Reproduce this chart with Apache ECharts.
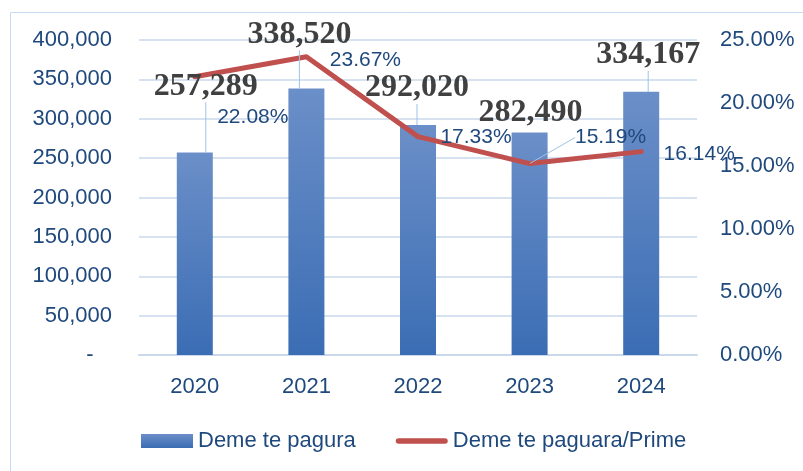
<!DOCTYPE html>
<html>
<head>
<meta charset="utf-8">
<script src="https://cdn.jsdelivr.net/npm/echarts@6/dist/echarts.min.js"></script>
<style>
html,body{margin:0;padding:0;background:#fff;}
#chart{width:803px;height:471px;}
</style>
</head>
<body>
<div id="chart"></div>
<script>
const categories = ['2020', '2021', '2022', '2023', '2024'];
const payable = [257289, 338520, 292020, 282490, 334167];
const ratioPct = [22.08, 23.67, 17.33, 15.19, 16.14];
const seriesNames = ['Deme te pagura', 'Deme te paguara/Prime'];

// label shifts (layout only)
const barLabelShift = [[11, -50], [-7, -38], [-1, -21], [1, -4], [7, -21]];
const lineLabelShift = [[58, 40], [59, 3], [58, 1], [81, -26], [58, 3]];
const barLeader = [true, true, true, false, true];
const lineLeader = [false, false, false, true, false];

const axisColor = '#1f497d';
const gridColor = '#cad8ec';
const leaderStyle = { color: '#9dc3e6', width: 1 };
const sans = '"Liberation Sans", Arial, sans-serif';

const chart = echarts.init(document.getElementById('chart'), null, { renderer: 'canvas' });

chart.setOption({
  animation: false,
  backgroundColor: '#ffffff',
  graphic: [{
    type: 'rect',
    shape: { x: 10.5, y: 12.5, width: 800, height: 470 },
    style: { fill: 'none', stroke: '#c6d9f0', lineWidth: 1 },
    silent: true
  }],
  grid: { left: 139, right: 106, top: 40, bottom: 116 },
  legend: {
    left: 141,
    top: 430,
    padding: 0,
    itemWidth: 52,
    itemHeight: 14,
    itemGap: 40,
    textStyle: { color: axisColor, fontSize: 22, fontFamily: sans },
    data: [
      { name: seriesNames[0], icon: 'rect' },
      { name: seriesNames[1], icon: 'path://M3,0 h50 a3,3 0 0 1 0,6 h-50 a3,3 0 0 1 0,-6 z' }
    ]
  },
  xAxis: {
    type: 'category',
    data: categories,
    axisLine: { show: true, lineStyle: { color: gridColor, width: 2 } },
    axisTick: { show: false },
    axisLabel: { color: axisColor, fontSize: 22, fontFamily: sans, margin: 21 }
  },
  yAxis: [
    {
      type: 'value',
      min: 0, max: 400000, interval: 50000,
      axisLine: { show: false },
      axisTick: { show: false },
      splitLine: { lineStyle: { color: gridColor, width: 1.5 } },
      axisLabel: {
        color: axisColor, fontSize: 22, fontFamily: sans, margin: 27,
        formatter: v => v === 0 ? '-   ' : v.toLocaleString('en-US')
      }
    },
    {
      type: 'value',
      min: 0, max: 25, interval: 5,
      position: 'right',
      axisLine: { show: false },
      axisTick: { show: false },
      splitLine: { show: false },
      axisLabel: {
        color: axisColor, fontSize: 22, fontFamily: sans, margin: 23,
        formatter: v => v.toFixed(2) + '%'
      }
    }
  ],
  series: [
    {
      name: seriesNames[0],
      type: 'bar',
      data: payable,
      barWidth: 36,
      z: 2,
      itemStyle: {
        color: new echarts.graphic.LinearGradient(0, 0, 0, 1, [
          { offset: 0, color: '#6b8fc8' },
          { offset: 1, color: '#3b6db4' }
        ])
      }
    },
    {
      name: seriesNames[1],
      type: 'line',
      yAxisIndex: 1,
      data: ratioPct.map((v, i) => ({ value: v, labelLine: { show: lineLeader[i] } })),
      z: 3,
      symbol: 'circle',
      symbolSize: 1,
      lineStyle: { color: '#c0504d', width: 5, cap: 'round', join: 'round' },
      itemStyle: { color: '#c0504d' },
      label: {
        show: true,
        position: 'inside',
        color: axisColor,
        fontSize: 21,
        fontFamily: sans,
        formatter: p => p.value.toFixed(2) + '%'
      },
      labelLine: { show: true, lineStyle: leaderStyle },
      labelLayout: p => ({ dx: lineLabelShift[p.dataIndex][0], dy: lineLabelShift[p.dataIndex][1] })
    },
    {
      name: seriesNames[0] + ' label',
      type: 'bar',
      data: payable.map((v, i) => ({ value: v, labelLine: { show: barLeader[i] } })),
      barWidth: 36,
      barGap: '-100%',
      z: 5,
      silent: true,
      itemStyle: { color: 'rgba(0,0,0,0)' },
      label: {
        show: true,
        position: 'top',
        distance: 0,
        color: '#404040',
        fontSize: 32,
        fontWeight: 'bold',
        fontFamily: '"Liberation Serif", "Times New Roman", serif',
        formatter: p => p.value.toLocaleString('en-US')
      },
      labelLine: { show: true, lineStyle: leaderStyle },
      labelLayout: p => ({ dx: barLabelShift[p.dataIndex][0], dy: barLabelShift[p.dataIndex][1] })
    }
  ]
});
</script>
</body>
</html>
